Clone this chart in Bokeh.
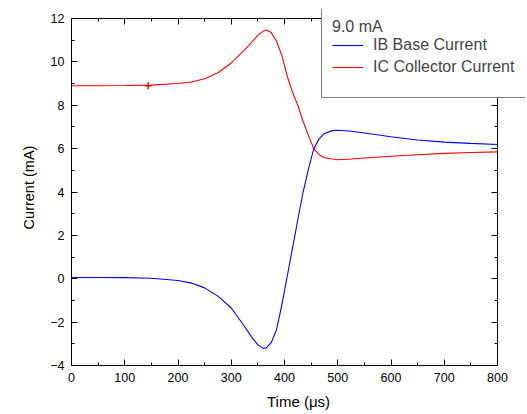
from bokeh.plotting import figure
from bokeh.models import (Range1d, LinearAxis, Legend, LegendItem,
                          SingleIntervalTicker, CustomJSTickFormatter)
from bokeh.embed import file_html
from bokeh.resources import INLINE

# ---- data ----
time_us = [0, 50, 100, 150, 200, 225, 250, 275, 300, 325, 340, 350, 360, 366,
           375, 385, 395, 405, 415, 425, 435, 445, 455, 465, 475, 490, 500,
           525, 550, 600, 650, 700, 750, 800]
ib_ma = [0.06, 0.06, 0.05, 0.02, -0.08, -0.20, -0.42, -0.80, -1.35, -2.20,
         -2.75, -3.05, -3.21, -3.18, -2.95, -2.35, -1.20, 0.10, 1.40, 2.72,
         4.00, 5.05, 6.00, 6.45, 6.70, 6.83, 6.85, 6.80, 6.72, 6.55, 6.40,
         6.30, 6.24, 6.19]
ic_ma = [8.90, 8.90, 8.91, 8.93, 9.00, 9.07, 9.22, 9.50, 9.95, 10.55, 10.95,
         11.22, 11.42, 11.47, 11.35, 10.95, 10.30, 9.35, 8.60, 8.00, 7.25,
         6.60, 6.00, 5.72, 5.58, 5.52, 5.49, 5.52, 5.57, 5.65, 5.72, 5.78,
         5.82, 5.85]
marker_t = [144]
marker_ic = [8.9]
x_lim = (0, 800)
y_lim = (-4, 12)
legend_title = "9.0 mA"
series_labels = ["IB Base Current", "IC Collector Current"]

FONT = "Liberation Sans"

# frame is widened so that the legend box (which sticks out of the axes box
# in the reference) is not clipped; the axes are bounded to the data limits
x_px = 426.0 / (x_lim[1] - x_lim[0])   # pixels per microsecond
y_px = 347.0 / (y_lim[1] - y_lim[0])   # pixels per mA
x_end = x_lim[1] + 28 / x_px
y_end = y_lim[1] + 9 / y_px

p = figure(width=527, height=414, output_backend="svg", toolbar_location=None,
           x_range=Range1d(x_lim[0], x_end), y_range=Range1d(y_lim[0], y_end),
           min_border_left=71, min_border_right=2,
           min_border_top=9, min_border_bottom=49)
p.grid.visible = False
p.outline_line_color = None
p.background_fill_color = "white"
p.border_fill_color = "white"

blue = p.line(time_us, ib_ma, line_color="#0000ff", line_width=1.1)
red = p.line(time_us, ic_ma, line_color="#ff0000", line_width=1.1)
p.scatter(marker_t, marker_ic, marker="cross", size=7, line_color="#ff0000",
          line_width=1.5)
dummy = p.scatter(marker_t, marker_ic, size=1, alpha=0)

xt = SingleIntervalTicker(interval=100, num_minor_ticks=2)
yt = SingleIntervalTicker(interval=2, num_minor_ticks=2)


def style(ax, labels=True):
    ax.axis_line_color = "black"
    ax.axis_line_width = 1
    ax.major_tick_in = 6
    ax.major_tick_out = 0
    ax.minor_tick_in = 3
    ax.minor_tick_out = 0
    ax.major_tick_line_color = "black"
    ax.minor_tick_line_color = "black"
    ax.major_label_text_font = FONT
    ax.major_label_text_font_size = "12.5px"
    ax.major_label_text_color = "black"
    ax.axis_label_text_font = FONT
    ax.axis_label_text_font_style = "normal"
    ax.axis_label_text_color = "black"
    ax.major_label_standoff = 7
    if not labels:
        ax.formatter = CustomJSTickFormatter(code="return ''")
        ax.major_label_standoff = 0


xa = p.xaxis[0]
xa.ticker = xt
xa.bounds = x_lim
style(xa)
xa.axis_label = "Time (\u03bcs)"
xa.axis_label_text_font_size = "15px"
xa.axis_label_standoff = 8

ya = p.yaxis[0]
ya.ticker = yt
ya.bounds = y_lim
style(ya)
ya.axis_label = "Current (mA)"
ya.axis_label_text_font_size = "14.5px"
ya.axis_label_standoff = 10

top = LinearAxis(ticker=xt, bounds=x_lim, fixed_location=y_lim[1])
style(top, labels=False)
p.add_layout(top, "above")
right = LinearAxis(ticker=yt, bounds=y_lim, fixed_location=x_lim[1])
style(right, labels=False)
p.add_layout(right, "right")

# legend frame box
box = Legend(items=[LegendItem(label=" ", renderers=[dummy])],
             location=(250, 267), padding=0, spacing=0,
             glyph_width=203, glyph_height=89, label_height=89,
             label_width=0, label_standoff=0, margin=0,
             border_line_color="black", border_line_width=1,
             background_fill_color="white", background_fill_alpha=1,
             label_text_font_size="1px")
p.add_layout(box, "center")

leg = Legend(items=[LegendItem(label=series_labels[0], renderers=[blue]),
                    LegendItem(label=series_labels[1], renderers=[red])],
             title=legend_title, location=(261, 289), padding=0, spacing=4,
             glyph_width=31, glyph_height=16, label_height=16,
             label_standoff=10, margin=0, title_standoff=-5,
             border_line_color=None, background_fill_alpha=0,
             label_text_font=FONT, label_text_font_size="16px",
             title_text_font=FONT, title_text_font_size="16px",
             title_text_font_style="normal")
p.add_layout(leg, "center")

open("out.html", "w").write(file_html(p, INLINE))
